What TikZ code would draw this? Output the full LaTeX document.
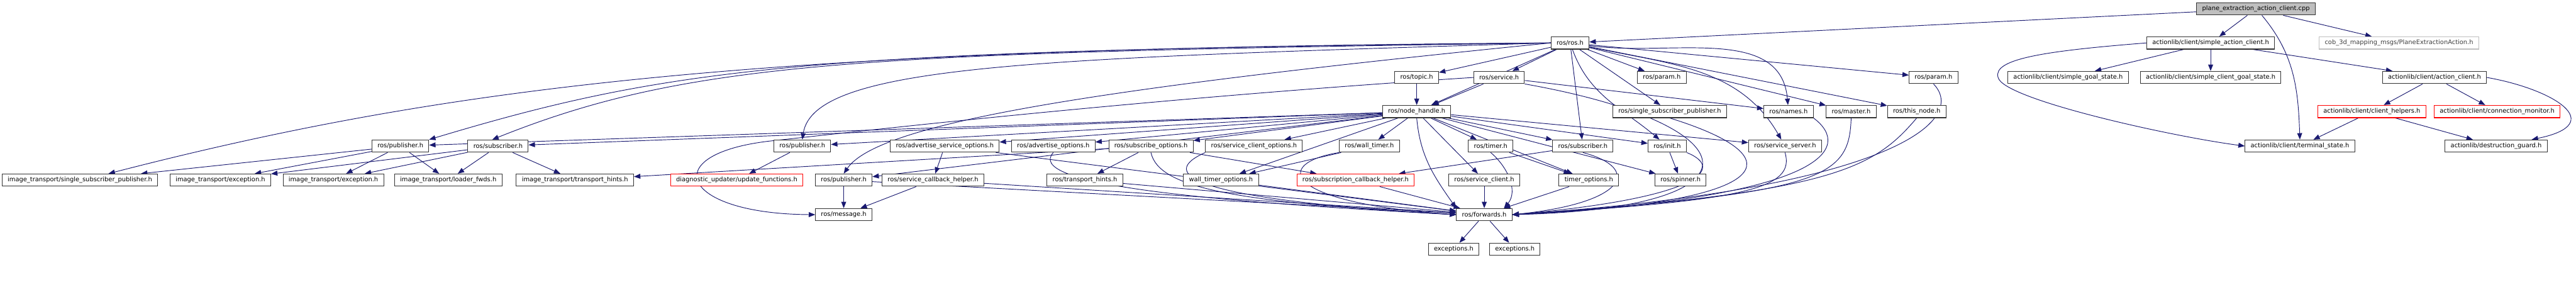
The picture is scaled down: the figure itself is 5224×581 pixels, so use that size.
\documentclass[tikz,border=0pt]{standalone}
\usepackage{fontspec}
\setmainfont{DejaVu Sans}
\usetikzlibrary{arrows.meta}
\pgfdeclarelayer{background}
\pgfsetlayers{background,main}
\definecolor{edgeblue}{HTML}{191970}
\definecolor{rootgray}{HTML}{BFBFBF}

\begin{document}
\begin{tikzpicture}[x=0.5pt,y=0.5pt,>={Triangle[length=6.5pt,width=5pt]},
  file/.style={draw=black!80,line width=0.65pt,fill=white,minimum height=12.5pt,
    inner xsep=5.6pt,inner ysep=0pt,font=\fontsize{6.3}{7}\selectfont},
  rootfile/.style={file,fill=rootgray},
  cutfile/.style={file,draw=red},
  nodocfile/.style={file,draw=rootgray,text=black!75},
  inc/.style={->,draw=edgeblue,line width=0.6pt}]
    \useasboundingbox (0,0) rectangle (5224,581);

    % Top: the source file and what it includes directly
    \node[rootfile] (root) at (4575,563) {plane\_extraction\_action\_client.cpp};
    \node[file] (ros) at (3184,494) {ros/ros.h};
    \node[file] (sac) at (4483,494) {actionlib/client/simple\_action\_client.h};
    \node[nodocfile] (cob) at (4865,494) {cob\_3d\_mapping\_msgs/PlaneExtractionAction.h};

    % Second row
    \node[file] (topic) at (2873,424) {ros/topic.h};
    \node[file] (service) at (3040,424) {ros/service.h};
    \node[file] (paramA) at (3370,424) {ros/param.h};
    \node[file] (paramB) at (3921,424) {ros/param.h};
    \node[file] (sgs) at (4194,424) {actionlib/client/simple\_goal\_state.h};
    \node[file] (scgs) at (4483,424) {actionlib/client/simple\_client\_goal\_state.h};
    \node[file] (ac) at (4937,424) {actionlib/client/action\_client.h};

    % Third row
    \node[file] (nh) at (2873,355) {ros/node\_handle.h};
    \node[file] (ssp) at (3386,355) {ros/single\_subscriber\_publisher.h};
    \node[file] (names) at (3627,355) {ros/names.h};
    \node[file] (master) at (3754,355) {ros/master.h};
    \node[file] (thisnode) at (3887,355) {ros/this\_node.h};
    \node[cutfile] (helpers) at (4810,355) {actionlib/client/client\_helpers.h};
    \node[cutfile] (connmon) at (5064,355) {actionlib/client/connection\_monitor.h};

    % Fourth row
    \node[file] (pubA) at (812,285) {ros/publisher.h};
    \node[file] (subA) at (1010,285) {ros/subscriber.h};
    \node[file] (pubB) at (1627,285) {ros/publisher.h};
    \node[file] (aso) at (1916,285) {ros/advertise\_service\_options.h};
    \node[file] (ao) at (2136,285) {ros/advertise\_options.h};
    \node[file] (so) at (2334,285) {ros/subscribe\_options.h};
    \node[file] (sco) at (2543,285) {ros/service\_client\_options.h};
    \node[file] (wt) at (2777,285) {ros/wall\_timer.h};
    \node[file] (timer) at (3023,285) {ros/timer.h};
    \node[file] (subB) at (3210,285) {ros/subscriber.h};
    \node[file] (init) at (3381,285) {ros/init.h};
    \node[file] (ss) at (3620,285) {ros/service\_server.h};
    \node[file] (term) at (4664,285) {actionlib/client/terminal\_state.h};
    \node[file] (guard) at (5062,285) {actionlib/destruction\_guard.h};

    % Fifth row
    \node[file] (itssp) at (162,216) {image\_transport/single\_subscriber\_publisher.h};
    \node[file] (itexA) at (447,216) {image\_transport/exception.h};
    \node[file] (itexB) at (676,216) {image\_transport/exception.h};
    \node[file] (itlf) at (909,216) {image\_transport/loader\_fwds.h};
    \node[file] (itth) at (1166,216) {image\_transport/transport\_hints.h};
    \node[cutfile] (upd) at (1494,216) {diagnostic\_updater/update\_functions.h};
    \node[file] (pubC) at (1711,216) {ros/publisher.h};
    \node[file] (sch) at (1892,216) {ros/service\_callback\_helper.h};
    \node[file] (th) at (2200,216) {ros/transport\_hints.h};
    \node[file] (wto) at (2476,216) {wall\_timer\_options.h};
    \node[cutfile] (scbh) at (2749,216) {ros/subscription\_callback\_helper.h};
    \node[file] (sc) at (3010,216) {ros/service\_client.h};
    \node[file] (to) at (3222,216) {timer\_options.h};
    \node[file] (spin) at (3408,216) {ros/spinner.h};

    % Bottom rows
    \node[file] (msg) at (1711,146) {ros/message.h};
    \node[file] (fwd) at (3010,146) {ros/forwards.h};
    \node[file] (exA) at (2948,76) {exceptions.h};
    \node[file] (exB) at (3072,76) {exceptions.h};

    \begin{pgfonlayer}{background}
    % Includes of the source file
    \foreach \t in {ros,sac,cob}
        \draw[inc] (root) -- (\t);
    \draw[inc] ([xshift=6pt]root.south) to[out=-50,in=92] (term.north);

    % actionlib part
    \foreach \t in {sgs,scgs,ac}
        \draw[inc] (sac) -- (\t);
    \draw[inc] (sac.west) .. controls (4150,478) and (4040,462) .. (4052,424)
        .. controls (4062,380) and (4400,305) .. (term.west);
    \foreach \t in {helpers,connmon}
        \draw[inc] (ac) -- (\t);
    \draw[inc] (ac.east) .. controls (5180,400) and (5290,330) .. ([xshift=-16pt]guard.north east);
    \foreach \t in {term,guard}
        \draw[inc] (helpers) -- (\t);

    % ros/ros.h
    \foreach \t in {topic,service,nh,paramA,ssp,subB,master,thisnode,paramB}
        \draw[inc] (ros) -- (\t);
    \draw[inc] (ros.west) .. controls +(-1600,-10) and +(700,180) .. ([xshift=29pt]itssp.north);
    \draw[inc] (ros.west) .. controls +(-1500,-15) and +(500,150) .. (pubA.north east);
    \draw[inc] (ros.west) .. controls +(-1400,-20) and +(400,160) .. ([xshift=25pt]subA.north west);
    \draw[inc] (ros.west) .. controls (2100,462) and (1650,450) .. (pubB.north);
    \draw[inc] (ros.west) .. controls (2200,400) and (1780,330) .. (pubC.north);
    \draw[inc] (ros) to[out=-70,in=140] (init);
    \draw[inc] (ros) to[out=-12,in=120] (ss);
    \draw[inc] (ros) to[out=-8,in=95] (names);

    \draw[inc] (topic) -- (nh);
    \foreach \t in {nh,names}
        \draw[inc] (service) -- (\t);
    \draw[inc] (service.west) .. controls (2300,380) and (1700,310) .. (1560,295)
        .. controls (1330,268) and (1380,148) .. (msg.west);
    \draw[inc] (service.south east) .. controls (3550,330) and (3600,160) .. (fwd.east);

    % ros/node_handle.h
    \foreach \t in {pubA,subA,pubB,aso,ao,so,sco,wt,timer,sc,subB,init,ss,to,spin,wto,pubC}
        \draw[inc] (nh) -- (\t);
    \draw[inc] (nh.south) to[out=-85,in=125] (fwd.north west);

    % image_transport headers
    \foreach \t in {itssp,itexA,itexB,itlf}
        \draw[inc] (pubA) -- (\t);
    \foreach \t in {itexA,itexB,itlf,itth}
        \draw[inc] (subA) -- (\t);
    \draw[inc] (pubB) -- (upd);
    \draw[inc] (pubC) -- (msg);
    \draw[inc] (aso) -- (sch);
    \draw[inc] (sch) -- (msg);
    \foreach \t in {th,scbh,itth}
        \draw[inc] (so) -- (\t);
    \draw[inc] (wt) -- (wto);
    \draw[inc] (timer) -- (to);
    \draw[inc] (subB) -- (scbh);
    \draw[inc] (init) -- (spin);

    % everything ends in ros/forwards.h
    \foreach \t in {aso,pubC,sch,th,wto,scbh,sc,to}
        \draw[inc] (\t) -- (fwd);
    \draw[inc] (ao.south) .. controls (2080,210) and (2400,175) .. (fwd.west);
    \draw[inc] (so.south) .. controls (2350,200) and (2500,172) .. (fwd.west);
    \draw[inc] (sco.south west) .. controls (2350,230) and (2400,178) .. (fwd.west);
    \draw[inc] (wt.south west) .. controls (2580,250) and (2600,170) .. (fwd.west);
    \draw[inc] (timer.south) to[out=-40,in=50] ([xshift=20pt]fwd.north);
    \draw[inc] (ssp.south) .. controls (3650,260) and (3600,170) .. (fwd.east);
    \draw[inc] (subB.south) .. controls (3330,240) and (3300,170) .. (fwd.east);
    \draw[inc] (init.south east) .. controls (3500,240) and (3450,180) .. (fwd.east);
    \draw[inc] (ss.south) .. controls (3640,200) and (3550,175) .. (fwd.east);
    \draw[inc] (names.south east) .. controls (3760,280) and (3700,180) .. (fwd.east);
    \draw[inc] (master.south) .. controls (3750,220) and (3700,190) .. (fwd.east);
    \draw[inc] (thisnode.south) .. controls (3800,240) and (3720,190) .. (fwd.east);
    \draw[inc] (paramB.south) .. controls (3990,340) and (3850,200) .. (fwd.east);
    \foreach \t in {exA,exB}
        \draw[inc] (fwd) -- (\t);
    \end{pgfonlayer}
\end{tikzpicture}
\end{document}
